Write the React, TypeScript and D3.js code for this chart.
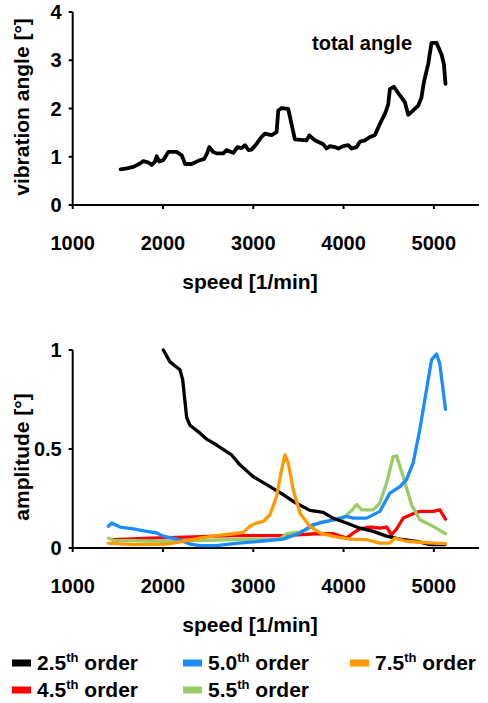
import React from "react";
import * as d3 from "d3";

// ---- Top chart: total vibration angle ----
const totalSpeed = [1531, 1600, 1672, 1745, 1782, 1838, 1875, 1911, 1930, 1959, 2004, 2059, 2151, 2207, 2225, 2244, 2317, 2410, 2454, 2483, 2513, 2557, 2594, 2668, 2705, 2779, 2823, 2871, 2908, 2945, 2982, 3037, 3092, 3129, 3203, 3258, 3277, 3314, 3387, 3461, 3590, 3620, 3683, 3775, 3812, 3849, 3904, 3941, 3996, 4052, 4089, 4144, 4181, 4236, 4292, 4347, 4402, 4458, 4494, 4513, 4557, 4624, 4679, 4716, 4771, 4827, 4863, 4889, 4937, 4974, 5030, 5085, 5111, 5129];
const totalAngle = [0.74, 0.76, 0.79, 0.86, 0.91, 0.88, 0.83, 0.9, 1.01, 0.9, 0.93, 1.1, 1.1, 1.03, 0.95, 0.85, 0.85, 0.93, 0.95, 1.05, 1.2, 1.1, 1.07, 1.07, 1.14, 1.08, 1.2, 1.18, 1.24, 1.14, 1.15, 1.27, 1.41, 1.48, 1.45, 1.51, 1.96, 2.01, 1.99, 1.36, 1.34, 1.44, 1.34, 1.26, 1.17, 1.22, 1.2, 1.17, 1.22, 1.24, 1.17, 1.2, 1.31, 1.34, 1.41, 1.45, 1.68, 1.89, 2.08, 2.4, 2.45, 2.27, 2.13, 1.87, 1.96, 2.06, 2.23, 2.54, 2.92, 3.36, 3.36, 3.12, 2.92, 2.51];

// ---- Bottom chart: order amplitudes ----
const o25Speed = [2004, 2077, 2188, 2218, 2262, 2299, 2410, 2483, 2594, 2760, 2852, 3000, 3111, 3221, 3332, 3443, 3627, 3775, 3886, 4033, 4181, 4328, 4476, 4624, 4808, 4956, 5122];
const o25Amp = [1.0, 0.94, 0.9, 0.85, 0.66, 0.62, 0.58, 0.55, 0.52, 0.47, 0.42, 0.36, 0.33, 0.3, 0.27, 0.235, 0.19, 0.18, 0.15, 0.126, 0.1, 0.084, 0.06, 0.045, 0.034, 0.017, 0.017];

const o50Speed = [1395, 1432, 1524, 1672, 1819, 1930, 2004, 2151, 2299, 2410, 2594, 2779, 3074, 3332, 3517, 3664, 3812, 3959, 4033, 4107, 4255, 4402, 4513, 4624, 4697, 4771, 4845, 4919, 4974, 5030, 5066, 5129];
const o50Amp = [0.11, 0.126, 0.106, 0.096, 0.084, 0.076, 0.06, 0.045, 0.02, 0.012, 0.012, 0.022, 0.034, 0.045, 0.076, 0.118, 0.134, 0.151, 0.16, 0.151, 0.151, 0.185, 0.277, 0.31, 0.345, 0.43, 0.6, 0.8, 0.95, 0.98, 0.93, 0.7];

const o75Speed = [1395, 1672, 2041, 2225, 2410, 2594, 2779, 2889, 2963, 3037, 3111, 3185, 3258, 3314, 3351, 3387, 3443, 3517, 3627, 3738, 3886, 4070, 4255, 4402, 4513, 4568, 4697, 4845, 4993, 5129];
const o75Amp = [0.025, 0.017, 0.02, 0.034, 0.05, 0.062, 0.072, 0.079, 0.11, 0.126, 0.134, 0.168, 0.26, 0.395, 0.47, 0.43, 0.294, 0.176, 0.109, 0.076, 0.059, 0.045, 0.042, 0.025, 0.025, 0.05, 0.034, 0.029, 0.025, 0.022];

const o45Speed = [1450, 1856, 2244, 2779, 3332, 3700, 3886, 4033, 4107, 4181, 4292, 4402, 4476, 4531, 4587, 4661, 4771, 4845, 4993, 5066, 5129];
const o45Amp = [0.042, 0.05, 0.055, 0.062, 0.062, 0.072, 0.072, 0.05, 0.076, 0.096, 0.106, 0.1, 0.106, 0.067, 0.096, 0.151, 0.173, 0.185, 0.185, 0.193, 0.146];

const o55Speed = [1395, 1450, 2041, 2779, 3295, 3369, 3517, 3590, 3738, 3886, 3996, 4107, 4144, 4199, 4328, 4402, 4476, 4550, 4587, 4661, 4753, 4845, 4993, 5129];
const o55Amp = [0.05, 0.039, 0.034, 0.042, 0.045, 0.072, 0.082, 0.092, 0.131, 0.139, 0.151, 0.197, 0.22, 0.193, 0.193, 0.227, 0.328, 0.462, 0.466, 0.36, 0.218, 0.143, 0.109, 0.072];

const xTicks = [1000, 2000, 3000, 4000, 5000];
const topYTicks = [0, 1, 2, 3, 4];
const bottomYTicks = [0, 0.5, 1];

const seriesNames = ["2.5", "4.5", "5.0", "5.5", "7.5"];
const seriesColors = ["#000000", "#ff0000", "#1a8cff", "#99cc66", "#ff9900"];

const FONT = "Liberation Sans, Arial, sans-serif";

function Axes({ x, y, yTicks, yFmt, yTitle, titleY }: any) {
  const [x0, x1] = x.range();
  const [yb, yt] = y.range();
  return (
    <g>
      <line x1={x0} x2={x0} y1={yt} y2={yb + 1} stroke="#000" strokeWidth={2} />
      <line x1={x0 - 1} x2={x1} y1={yb} y2={yb} stroke="#000" strokeWidth={2} />
      {yTicks.map((t: number) => (
        <g key={"y" + t}>
          <line x1={x0 - 4} x2={x0} y1={y(t)} y2={y(t)} stroke="#000" strokeWidth={2} />
          <text x={x0 - 11} y={y(t)} dy="0.35em" textAnchor="end" fontSize={20} fontWeight="bold" fontFamily={FONT}>{yFmt(t)}</text>
        </g>
      ))}
      {xTicks.map((t) => (
        <g key={"x" + t}>
          <line x1={x(t)} x2={x(t)} y1={yb} y2={yb + 4} stroke="#000" strokeWidth={2} />
          <text x={x(t)} y={yb + 38} dy="0.35em" textAnchor="middle" fontSize={20} fontWeight="bold" fontFamily={FONT}>{t}</text>
        </g>
      ))}
      <text x={250} y={yb + 77} dy="0.35em" textAnchor="middle" fontSize={21} fontWeight="bold" fontFamily={FONT}>speed [1/min]</text>
      <text transform={`translate(22,${titleY}) rotate(-90)`} dy="0.35em" textAnchor="middle" fontSize={21} fontWeight="bold" fontFamily={FONT}>{yTitle}</text>
    </g>
  );
}

export default function App() {
  const x = d3.scaleLinear().domain([1000, 5500]).range([72.7, 479]);
  const yTop = d3.scaleLinear().domain([0, 4]).range([205, 12]);
  const yBot = d3.scaleLinear().domain([0, 1]).range([548, 350]);

  const topLine = d3.line<number>().x((_, i) => x(totalSpeed[i])).y((v) => yTop(v));
  const botLine = (sp: number[]) => d3.line<number>().x((_, i) => x(sp[i])).y((v) => yBot(v));

  const bottomSeries = [
    { sp: o45Speed, v: o45Amp, c: seriesColors[1] },
    { sp: o55Speed, v: o55Amp, c: seriesColors[3] },
    { sp: o50Speed, v: o50Amp, c: seriesColors[2] },
    { sp: o25Speed, v: o25Amp, c: seriesColors[0] },
    { sp: o75Speed, v: o75Amp, c: seriesColors[4] },
  ];

  const legend = [
    { i: 0, col: 0, row: 0 },
    { i: 2, col: 1, row: 0 },
    { i: 4, col: 2, row: 0 },
    { i: 1, col: 0, row: 1 },
    { i: 3, col: 1, row: 1 },
  ];
  const colX = [12, 183, 350];
  const rowY = [663, 690];

  return (
    <svg width={488} height={703} style={{ position: "absolute", left: 0, top: 0, background: "#fff" }}>
      <rect width={488} height={703} fill="#fff" />
      <Axes x={x} y={yTop} yTicks={topYTicks} yFmt={(t: number) => String(t)} yTitle="vibration angle [°]" titleY={107} />
      <path d={topLine(totalAngle) || ""} fill="none" stroke="#000" strokeWidth={3.8} strokeLinejoin="round" strokeLinecap="round" />
      <text x={312} y={43} dy="0.35em" fontSize={20} fontWeight="bold" fontFamily={FONT}>total angle</text>

      <Axes x={x} y={yBot} yTicks={bottomYTicks} yFmt={(t: number) => String(t)} yTitle="amplitude [°]" titleY={457} />
      {bottomSeries.map((s, k) => (
        <path key={k} d={botLine(s.sp)(s.v) || ""} fill="none" stroke={s.c} strokeWidth={3.3} strokeLinejoin="round" strokeLinecap="round" />
      ))}

      {legend.map((l) => (
        <g key={l.i}>
          <rect x={colX[l.col]} y={rowY[l.row] - 3.5} width={19} height={7} fill={seriesColors[l.i]} />
          <text x={colX[l.col] + 25} y={rowY[l.row] + 7} fontSize={21} fontWeight="bold" fontFamily={FONT}>
            <tspan>{seriesNames[l.i]}</tspan>
            <tspan fontSize={13} dy={-8}>th</tspan>
            <tspan dy={8}> order</tspan>
          </text>
        </g>
      ))}
    </svg>
  );
}
